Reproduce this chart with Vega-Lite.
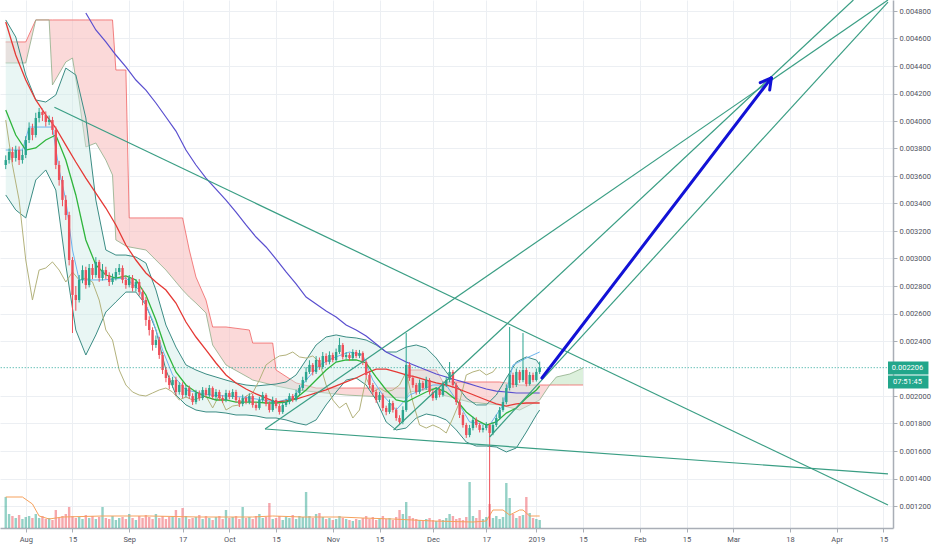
{
  "$schema": "https://vega.github.io/schema/vega-lite/v6.json",
  "width": 893,
  "height": 528,
  "autosize": {"type": "none"},
  "padding": {"left": 0, "top": 0, "right": 39, "bottom": 22},
  "background": "#ffffff",
  "config": {
    "view": {"stroke": null},
    "font": "Roboto",
    "axis": {"labelFont": "Roboto", "labelFontSize": 7.5, "labelColor": "#50535e", "domainColor": "#a9aeb6", "domainWidth": 1.5, "tickColor": "#a9aeb6", "tickSize": 4, "gridColor": "#eceff3", "gridWidth": 1}
  },
  "datasets": {
    "candles": [
      {"t":"2018-07-26","o":0.003680,"h":0.003750,"l":0.003650,"c":0.003716,"v":31},
      {"t":"2018-07-27","o":0.003716,"h":0.003800,"l":0.003690,"c":0.003775,"v":14},
      {"t":"2018-07-28","o":0.003775,"h":0.003810,"l":0.003700,"c":0.003731,"v":12},
      {"t":"2018-07-29","o":0.003731,"h":0.003820,"l":0.003705,"c":0.003789,"v":10},
      {"t":"2018-07-30","o":0.003789,"h":0.003815,"l":0.003680,"c":0.003716,"v":13},
      {"t":"2018-07-31","o":0.003716,"h":0.003790,"l":0.003690,"c":0.003753,"v":9},
      {"t":"2018-08-01","o":0.003753,"h":0.003890,"l":0.003730,"c":0.003862,"v":11},
      {"t":"2018-08-02","o":0.003862,"h":0.003990,"l":0.003840,"c":0.003949,"v":12},
      {"t":"2018-08-03","o":0.003949,"h":0.003980,"l":0.003860,"c":0.003898,"v":10},
      {"t":"2018-08-04","o":0.003898,"h":0.004060,"l":0.003880,"c":0.004022,"v":14},
      {"t":"2018-08-05","o":0.004022,"h":0.004095,"l":0.003990,"c":0.004066,"v":10},
      {"t":"2018-08-06","o":0.004066,"h":0.004090,"l":0.004000,"c":0.004044,"v":12},
      {"t":"2018-08-07","o":0.004044,"h":0.004070,"l":0.003960,"c":0.003993,"v":9},
      {"t":"2018-08-08","o":0.003993,"h":0.004040,"l":0.003970,"c":0.004007,"v":10},
      {"t":"2018-08-09","o":0.004007,"h":0.004030,"l":0.003900,"c":0.003935,"v":8},
      {"t":"2018-08-10","o":0.003935,"h":0.003960,"l":0.003650,"c":0.003680,"v":18},
      {"t":"2018-08-11","o":0.003680,"h":0.003710,"l":0.003530,"c":0.003571,"v":10},
      {"t":"2018-08-12","o":0.003571,"h":0.003600,"l":0.003380,"c":0.003426,"v":12},
      {"t":"2018-08-13","o":0.003426,"h":0.003460,"l":0.003280,"c":0.003316,"v":14},
      {"t":"2018-08-14","o":0.003316,"h":0.003340,"l":0.002950,"c":0.002989,"v":21},
      {"t":"2018-08-15","o":0.002989,"h":0.003010,"l":0.002458,"c":0.002735,"v":12},
      {"t":"2018-08-16","o":0.002735,"h":0.002800,"l":0.002620,"c":0.002698,"v":10},
      {"t":"2018-08-17","o":0.002698,"h":0.002880,"l":0.002680,"c":0.002844,"v":11},
      {"t":"2018-08-18","o":0.002844,"h":0.002950,"l":0.002820,"c":0.002916,"v":9},
      {"t":"2018-08-19","o":0.002916,"h":0.002940,"l":0.002780,"c":0.002807,"v":13},
      {"t":"2018-08-20","o":0.002807,"h":0.002960,"l":0.002790,"c":0.002931,"v":10},
      {"t":"2018-08-21","o":0.002931,"h":0.002960,"l":0.002850,"c":0.002880,"v":12},
      {"t":"2018-08-22","o":0.002880,"h":0.003010,"l":0.002860,"c":0.002975,"v":9},
      {"t":"2018-08-23","o":0.002975,"h":0.002990,"l":0.002830,"c":0.002858,"v":11},
      {"t":"2018-08-24","o":0.002858,"h":0.002960,"l":0.002840,"c":0.002916,"v":21},
      {"t":"2018-08-25","o":0.002916,"h":0.002940,"l":0.002850,"c":0.002880,"v":10},
      {"t":"2018-08-26","o":0.002880,"h":0.002900,"l":0.002800,"c":0.002829,"v":9},
      {"t":"2018-08-27","o":0.002829,"h":0.002890,"l":0.002810,"c":0.002858,"v":12},
      {"t":"2018-08-28","o":0.002858,"h":0.002930,"l":0.002840,"c":0.002902,"v":8},
      {"t":"2018-08-29","o":0.002902,"h":0.002960,"l":0.002880,"c":0.002931,"v":10},
      {"t":"2018-08-30","o":0.002931,"h":0.002950,"l":0.002820,"c":0.002844,"v":11},
      {"t":"2018-08-31","o":0.002844,"h":0.002870,"l":0.002780,"c":0.002807,"v":9},
      {"t":"2018-09-01","o":0.002807,"h":0.002880,"l":0.002790,"c":0.002858,"v":14},
      {"t":"2018-09-02","o":0.002858,"h":0.002880,"l":0.002760,"c":0.002785,"v":10},
      {"t":"2018-09-03","o":0.002785,"h":0.002850,"l":0.002760,"c":0.002829,"v":8},
      {"t":"2018-09-04","o":0.002829,"h":0.002850,"l":0.002730,"c":0.002756,"v":12},
      {"t":"2018-09-05","o":0.002756,"h":0.002780,"l":0.002660,"c":0.002698,"v":10},
      {"t":"2018-09-06","o":0.002698,"h":0.002720,"l":0.002510,"c":0.002553,"v":13},
      {"t":"2018-09-07","o":0.002553,"h":0.002580,"l":0.002440,"c":0.002480,"v":11},
      {"t":"2018-09-08","o":0.002480,"h":0.002500,"l":0.002330,"c":0.002371,"v":9},
      {"t":"2018-09-09","o":0.002371,"h":0.002440,"l":0.002350,"c":0.002407,"v":14},
      {"t":"2018-09-10","o":0.002407,"h":0.002430,"l":0.002270,"c":0.002298,"v":10},
      {"t":"2018-09-11","o":0.002298,"h":0.002320,"l":0.002160,"c":0.002189,"v":12},
      {"t":"2018-09-12","o":0.002189,"h":0.002210,"l":0.002100,"c":0.002131,"v":9},
      {"t":"2018-09-13","o":0.002131,"h":0.002150,"l":0.002050,"c":0.002080,"v":11},
      {"t":"2018-09-14","o":0.002080,"h":0.002140,"l":0.002060,"c":0.002116,"v":12},
      {"t":"2018-09-15","o":0.002116,"h":0.002140,"l":0.002005,"c":0.002029,"v":18},
      {"t":"2018-09-16","o":0.002029,"h":0.002100,"l":0.002010,"c":0.002080,"v":10},
      {"t":"2018-09-17","o":0.002080,"h":0.002100,"l":0.001985,"c":0.002007,"v":20},
      {"t":"2018-09-18","o":0.002007,"h":0.002080,"l":0.001990,"c":0.002058,"v":12},
      {"t":"2018-09-19","o":0.002058,"h":0.002075,"l":0.001980,"c":0.002000,"v":9},
      {"t":"2018-09-20","o":0.002000,"h":0.002020,"l":0.001935,"c":0.001956,"v":10},
      {"t":"2018-09-21","o":0.001956,"h":0.002045,"l":0.001940,"c":0.002022,"v":11},
      {"t":"2018-09-22","o":0.002022,"h":0.002040,"l":0.001965,"c":0.001985,"v":13},
      {"t":"2018-09-23","o":0.001985,"h":0.002065,"l":0.001970,"c":0.002044,"v":9},
      {"t":"2018-09-24","o":0.002044,"h":0.002060,"l":0.001990,"c":0.002007,"v":12},
      {"t":"2018-09-25","o":0.002007,"h":0.002080,"l":0.001990,"c":0.002058,"v":10},
      {"t":"2018-09-26","o":0.002058,"h":0.002070,"l":0.001975,"c":0.001993,"v":8},
      {"t":"2018-09-27","o":0.001993,"h":0.002050,"l":0.001975,"c":0.002029,"v":11},
      {"t":"2018-09-28","o":0.002029,"h":0.002045,"l":0.001965,"c":0.001985,"v":12},
      {"t":"2018-09-29","o":0.001985,"h":0.002005,"l":0.001950,"c":0.001971,"v":9},
      {"t":"2018-09-30","o":0.001971,"h":0.002045,"l":0.001955,"c":0.002022,"v":18},
      {"t":"2018-10-01","o":0.002022,"h":0.002040,"l":0.001975,"c":0.001993,"v":10},
      {"t":"2018-10-02","o":0.001993,"h":0.002050,"l":0.001978,"c":0.002029,"v":11},
      {"t":"2018-10-03","o":0.002029,"h":0.002045,"l":0.001955,"c":0.001971,"v":12},
      {"t":"2018-10-04","o":0.001971,"h":0.001990,"l":0.001920,"c":0.001942,"v":9},
      {"t":"2018-10-05","o":0.001942,"h":0.002010,"l":0.001925,"c":0.001985,"v":21},
      {"t":"2018-10-06","o":0.001985,"h":0.002000,"l":0.001940,"c":0.001956,"v":10},
      {"t":"2018-10-07","o":0.001956,"h":0.002020,"l":0.001940,"c":0.002000,"v":11},
      {"t":"2018-10-08","o":0.002000,"h":0.002015,"l":0.001915,"c":0.001935,"v":9},
      {"t":"2018-10-09","o":0.001935,"h":0.001955,"l":0.001895,"c":0.001913,"v":12},
      {"t":"2018-10-10","o":0.001913,"h":0.001995,"l":0.001900,"c":0.001971,"v":14},
      {"t":"2018-10-11","o":0.001971,"h":0.002030,"l":0.001955,"c":0.002007,"v":10},
      {"t":"2018-10-12","o":0.002007,"h":0.002020,"l":0.001925,"c":0.001942,"v":11},
      {"t":"2018-10-13","o":0.001942,"h":0.001960,"l":0.001880,"c":0.001898,"v":25},
      {"t":"2018-10-14","o":0.001898,"h":0.001995,"l":0.001885,"c":0.001971,"v":9},
      {"t":"2018-10-15","o":0.001971,"h":0.001985,"l":0.001910,"c":0.001927,"v":10},
      {"t":"2018-10-16","o":0.001927,"h":0.001945,"l":0.001865,"c":0.001884,"v":12},
      {"t":"2018-10-17","o":0.001884,"h":0.001955,"l":0.001870,"c":0.001935,"v":8},
      {"t":"2018-10-18","o":0.001935,"h":0.001980,"l":0.001920,"c":0.001956,"v":11},
      {"t":"2018-10-19","o":0.001956,"h":0.002020,"l":0.001940,"c":0.002000,"v":10},
      {"t":"2018-10-20","o":0.002000,"h":0.002015,"l":0.001955,"c":0.001971,"v":13},
      {"t":"2018-10-21","o":0.001971,"h":0.002045,"l":0.001960,"c":0.002022,"v":9},
      {"t":"2018-10-22","o":0.002022,"h":0.002080,"l":0.002005,"c":0.002058,"v":12},
      {"t":"2018-10-23","o":0.002058,"h":0.002140,"l":0.002040,"c":0.002116,"v":11},
      {"t":"2018-10-24","o":0.002116,"h":0.002210,"l":0.002100,"c":0.002175,"v":36},
      {"t":"2018-10-25","o":0.002175,"h":0.002260,"l":0.002160,"c":0.002226,"v":12},
      {"t":"2018-10-26","o":0.002226,"h":0.002240,"l":0.002150,"c":0.002175,"v":10},
      {"t":"2018-10-27","o":0.002175,"h":0.002290,"l":0.002160,"c":0.002262,"v":14},
      {"t":"2018-10-28","o":0.002262,"h":0.002280,"l":0.002190,"c":0.002211,"v":15},
      {"t":"2018-10-29","o":0.002211,"h":0.002320,"l":0.002195,"c":0.002291,"v":11},
      {"t":"2018-10-30","o":0.002291,"h":0.002310,"l":0.002225,"c":0.002247,"v":9},
      {"t":"2018-10-31","o":0.002247,"h":0.002325,"l":0.002230,"c":0.002298,"v":10},
      {"t":"2018-11-01","o":0.002298,"h":0.002315,"l":0.002245,"c":0.002262,"v":8},
      {"t":"2018-11-02","o":0.002262,"h":0.002345,"l":0.002250,"c":0.002320,"v":9},
      {"t":"2018-11-03","o":0.002320,"h":0.002422,"l":0.002305,"c":0.002371,"v":12},
      {"t":"2018-11-04","o":0.002371,"h":0.002385,"l":0.002265,"c":0.002284,"v":10},
      {"t":"2018-11-05","o":0.002284,"h":0.002320,"l":0.002270,"c":0.002298,"v":9},
      {"t":"2018-11-06","o":0.002298,"h":0.002315,"l":0.002255,"c":0.002276,"v":8},
      {"t":"2018-11-07","o":0.002276,"h":0.002340,"l":0.002260,"c":0.002320,"v":7},
      {"t":"2018-11-08","o":0.002320,"h":0.002335,"l":0.002275,"c":0.002291,"v":9},
      {"t":"2018-11-09","o":0.002291,"h":0.002335,"l":0.002275,"c":0.002313,"v":8},
      {"t":"2018-11-10","o":0.002313,"h":0.002325,"l":0.002225,"c":0.002247,"v":10},
      {"t":"2018-11-11","o":0.002247,"h":0.002260,"l":0.002130,"c":0.002153,"v":12},
      {"t":"2018-11-12","o":0.002153,"h":0.002170,"l":0.002055,"c":0.002080,"v":9},
      {"t":"2018-11-13","o":0.002080,"h":0.002095,"l":0.002005,"c":0.002029,"v":11},
      {"t":"2018-11-14","o":0.002029,"h":0.002045,"l":0.001950,"c":0.001971,"v":8},
      {"t":"2018-11-15","o":0.001971,"h":0.002030,"l":0.001955,"c":0.002007,"v":10},
      {"t":"2018-11-16","o":0.002007,"h":0.002020,"l":0.001890,"c":0.001913,"v":12},
      {"t":"2018-11-17","o":0.001913,"h":0.001930,"l":0.001860,"c":0.001884,"v":9},
      {"t":"2018-11-18","o":0.001884,"h":0.001975,"l":0.001870,"c":0.001949,"v":10},
      {"t":"2018-11-19","o":0.001949,"h":0.001965,"l":0.001880,"c":0.001898,"v":8},
      {"t":"2018-11-20","o":0.001898,"h":0.001915,"l":0.001820,"c":0.001840,"v":11},
      {"t":"2018-11-21","o":0.001840,"h":0.001860,"l":0.001790,"c":0.001811,"v":18},
      {"t":"2018-11-22","o":0.001811,"h":0.001925,"l":0.001795,"c":0.001898,"v":14},
      {"t":"2018-11-23","o":0.001898,"h":0.002458,"l":0.001885,"c":0.002226,"v":26},
      {"t":"2018-11-24","o":0.002226,"h":0.002245,"l":0.002110,"c":0.002131,"v":12},
      {"t":"2018-11-25","o":0.002131,"h":0.002150,"l":0.002060,"c":0.002080,"v":10},
      {"t":"2018-11-26","o":0.002080,"h":0.002095,"l":0.002010,"c":0.002029,"v":9},
      {"t":"2018-11-27","o":0.002029,"h":0.002120,"l":0.002015,"c":0.002095,"v":8},
      {"t":"2018-11-28","o":0.002095,"h":0.002110,"l":0.002040,"c":0.002058,"v":7},
      {"t":"2018-11-29","o":0.002058,"h":0.002140,"l":0.002045,"c":0.002116,"v":9},
      {"t":"2018-11-30","o":0.002116,"h":0.002130,"l":0.002010,"c":0.002029,"v":10},
      {"t":"2018-12-01","o":0.002029,"h":0.002045,"l":0.001965,"c":0.001985,"v":8},
      {"t":"2018-12-02","o":0.001985,"h":0.002065,"l":0.001970,"c":0.002044,"v":7},
      {"t":"2018-12-03","o":0.002044,"h":0.002060,"l":0.001990,"c":0.002007,"v":9},
      {"t":"2018-12-04","o":0.002007,"h":0.002105,"l":0.001995,"c":0.002080,"v":8},
      {"t":"2018-12-05","o":0.002080,"h":0.002140,"l":0.002065,"c":0.002116,"v":10},
      {"t":"2018-12-06","o":0.002116,"h":0.002247,"l":0.002100,"c":0.002175,"v":14},
      {"t":"2018-12-07","o":0.002175,"h":0.002190,"l":0.002060,"c":0.002080,"v":12},
      {"t":"2018-12-08","o":0.002080,"h":0.002095,"l":0.001935,"c":0.001956,"v":9},
      {"t":"2018-12-09","o":0.001956,"h":0.001970,"l":0.001840,"c":0.001862,"v":10},
      {"t":"2018-12-10","o":0.001862,"h":0.001880,"l":0.001770,"c":0.001789,"v":8},
      {"t":"2018-12-11","o":0.001789,"h":0.001805,"l":0.001695,"c":0.001716,"v":11},
      {"t":"2018-12-12","o":0.001716,"h":0.001790,"l":0.001700,"c":0.001767,"v":46},
      {"t":"2018-12-13","o":0.001767,"h":0.001850,"l":0.001750,"c":0.001826,"v":12},
      {"t":"2018-12-14","o":0.001826,"h":0.001845,"l":0.001770,"c":0.001789,"v":10},
      {"t":"2018-12-15","o":0.001789,"h":0.001805,"l":0.001735,"c":0.001753,"v":18},
      {"t":"2018-12-16","o":0.001753,"h":0.001790,"l":0.001735,"c":0.001767,"v":9},
      {"t":"2018-12-17","o":0.001767,"h":0.001810,"l":0.001750,"c":0.001789,"v":11},
      {"t":"2018-12-18","o":0.001789,"h":0.001800,"l":0.001050,"c":0.001731,"v":24},
      {"t":"2018-12-19","o":0.001731,"h":0.001810,"l":0.001715,"c":0.001789,"v":10},
      {"t":"2018-12-20","o":0.001789,"h":0.001865,"l":0.001775,"c":0.001840,"v":12},
      {"t":"2018-12-21","o":0.001840,"h":0.001920,"l":0.001825,"c":0.001898,"v":9},
      {"t":"2018-12-22","o":0.001898,"h":0.001990,"l":0.001885,"c":0.001956,"v":11},
      {"t":"2018-12-23","o":0.001956,"h":0.002085,"l":0.001940,"c":0.002058,"v":45},
      {"t":"2018-12-24","o":0.002058,"h":0.002502,"l":0.002040,"c":0.002153,"v":30},
      {"t":"2018-12-25","o":0.002153,"h":0.002170,"l":0.002060,"c":0.002080,"v":14},
      {"t":"2018-12-26","o":0.002080,"h":0.002200,"l":0.002065,"c":0.002175,"v":10},
      {"t":"2018-12-27","o":0.002175,"h":0.002190,"l":0.002095,"c":0.002116,"v":12},
      {"t":"2018-12-28","o":0.002116,"h":0.002458,"l":0.002100,"c":0.002189,"v":13},
      {"t":"2018-12-29","o":0.002189,"h":0.002205,"l":0.002070,"c":0.002087,"v":31},
      {"t":"2018-12-30","o":0.002087,"h":0.002175,"l":0.002075,"c":0.002153,"v":15},
      {"t":"2018-12-31","o":0.002153,"h":0.002170,"l":0.002100,"c":0.002116,"v":10},
      {"t":"2019-01-01","o":0.002116,"h":0.002200,"l":0.002105,"c":0.002175,"v":9},
      {"t":"2019-01-02","o":0.002175,"h":0.002250,"l":0.002160,"c":0.002206,"v":8}
    ],
    "vma": [
      {"t":"2018-07-26","v":31},{"t":"2018-07-31","v":31},{"t":"2018-08-03","v":24},{"t":"2018-08-05","v":12},
      {"t":"2018-08-08","v":9},{"t":"2018-08-12","v":11},{"t":"2018-08-24","v":12},{"t":"2018-09-07","v":12},
      {"t":"2018-09-22","v":11},{"t":"2018-10-08","v":11},{"t":"2018-10-14","v":12},{"t":"2018-10-23","v":11},
      {"t":"2018-11-03","v":11},{"t":"2018-11-10","v":10},{"t":"2018-11-19","v":9},{"t":"2018-12-01","v":7},
      {"t":"2018-12-13","v":6},{"t":"2018-12-17","v":7},{"t":"2018-12-19","v":18},{"t":"2018-12-22","v":18},
      {"t":"2018-12-24","v":13},{"t":"2018-12-27","v":18},{"t":"2018-12-28","v":18},{"t":"2018-12-30","v":12},
      {"t":"2019-01-02","v":12}
    ],
    "ind": [
      {"t":"2018-07-26","u":0.004735,"lo":0.003462,"basis":0.004080,"ema":0.004720,"ma200":null},
      {"t":"2018-07-29","u":0.004611,"lo":0.003353,"basis":0.003898,"ema":0.004480,"ma200":null},
      {"t":"2018-08-01","u":0.004335,"lo":0.003295,"basis":0.003789,"ema":0.004298,"ma200":null},
      {"t":"2018-08-04","u":0.004153,"lo":0.003571,"basis":0.003804,"ema":0.004153,"ma200":null},
      {"t":"2018-08-07","u":0.004138,"lo":0.003644,"basis":0.003862,"ema":0.004044,"ma200":null},
      {"t":"2018-08-10","u":0.004189,"lo":0.003498,"basis":0.003898,"ema":0.003949,"ma200":null},
      {"t":"2018-08-13","u":0.004385,"lo":0.002953,"basis":0.003716,"ema":0.003825,"ma200":null},
      {"t":"2018-08-16","u":0.004335,"lo":0.002480,"basis":0.003462,"ema":0.003702,"ma200":null},
      {"t":"2018-08-19","u":0.004022,"lo":0.002298,"basis":0.003135,"ema":0.003585,"ma200":0.004785},
      {"t":"2018-08-22","u":0.003425,"lo":0.002444,"basis":0.002953,"ema":0.003476,"ma200":0.004662},
      {"t":"2018-08-25","u":0.003062,"lo":0.002611,"basis":0.002880,"ema":0.003367,"ma200":0.004575},
      {"t":"2018-08-28","u":0.003025,"lo":0.002684,"basis":0.002858,"ema":0.003244,"ma200":0.004480},
      {"t":"2018-08-31","u":0.003025,"lo":0.002756,"basis":0.002873,"ema":0.003098,"ma200":0.004393},
      {"t":"2018-09-03","u":0.003011,"lo":0.002756,"basis":0.002844,"ema":0.002989,"ma200":0.004298},
      {"t":"2018-09-06","u":0.002967,"lo":0.002662,"basis":0.002735,"ema":0.002895,"ma200":0.004225},
      {"t":"2018-09-09","u":0.002771,"lo":0.002480,"basis":0.002553,"ema":0.002829,"ma200":0.004131},
      {"t":"2018-09-12","u":0.002516,"lo":0.002189,"basis":0.002335,"ema":0.002771,"ma200":0.004029},
      {"t":"2018-09-15","u":0.002356,"lo":0.002007,"basis":0.002175,"ema":0.002676,"ma200":0.003927},
      {"t":"2018-09-18","u":0.002226,"lo":0.001935,"basis":0.002080,"ema":0.002538,"ma200":0.003789},
      {"t":"2018-09-21","u":0.002189,"lo":0.001898,"basis":0.002029,"ema":0.002429,"ma200":0.003680},
      {"t":"2018-09-24","u":0.002160,"lo":0.001884,"basis":0.001993,"ema":0.002335,"ma200":0.003585},
      {"t":"2018-09-27","u":0.002138,"lo":0.001884,"basis":0.001971,"ema":0.002240,"ma200":0.003505},
      {"t":"2018-09-30","u":0.002116,"lo":0.001876,"basis":0.001971,"ema":0.002153,"ma200":0.003425},
      {"t":"2018-10-03","u":0.002095,"lo":0.001862,"basis":0.001956,"ema":0.002095,"ma200":0.003338},
      {"t":"2018-10-06","u":0.002080,"lo":0.001862,"basis":0.001956,"ema":0.002051,"ma200":0.003244},
      {"t":"2018-10-09","u":0.002073,"lo":0.001855,"basis":0.001956,"ema":0.002015,"ma200":0.003156},
      {"t":"2018-10-12","u":0.002080,"lo":0.001840,"basis":0.001949,"ema":0.001985,"ma200":0.003084},
      {"t":"2018-10-15","u":0.002087,"lo":0.001840,"basis":0.001949,"ema":0.001956,"ma200":0.002996},
      {"t":"2018-10-18","u":0.002102,"lo":0.001826,"basis":0.001956,"ema":0.001964,"ma200":0.002902},
      {"t":"2018-10-21","u":0.002153,"lo":0.001804,"basis":0.001985,"ema":0.001978,"ma200":0.002815},
      {"t":"2018-10-24","u":0.002262,"lo":0.001789,"basis":0.002044,"ema":0.002000,"ma200":0.002720},
      {"t":"2018-10-27","u":0.002371,"lo":0.001826,"basis":0.002116,"ema":0.002022,"ma200":0.002669},
      {"t":"2018-10-30","u":0.002429,"lo":0.001935,"basis":0.002189,"ema":0.002044,"ma200":0.002618},
      {"t":"2018-11-02","u":0.002444,"lo":0.002029,"basis":0.002247,"ema":0.002073,"ma200":0.002575},
      {"t":"2018-11-05","u":0.002429,"lo":0.002116,"basis":0.002262,"ema":0.002102,"ma200":0.002516},
      {"t":"2018-11-08","u":0.002422,"lo":0.002131,"basis":0.002262,"ema":0.002131,"ma200":0.002480},
      {"t":"2018-11-11","u":0.002407,"lo":0.002080,"basis":0.002240,"ema":0.002167,"ma200":0.002436},
      {"t":"2018-11-14","u":0.002371,"lo":0.001971,"basis":0.002138,"ema":0.002196,"ma200":0.002378},
      {"t":"2018-11-17","u":0.002320,"lo":0.001811,"basis":0.002044,"ema":0.002196,"ma200":0.002320},
      {"t":"2018-11-20","u":0.002320,"lo":0.001753,"basis":0.001971,"ema":0.002175,"ma200":0.002284},
      {"t":"2018-11-23","u":0.002356,"lo":0.001767,"basis":0.001956,"ema":0.002153,"ma200":0.002247},
      {"t":"2018-11-26","u":0.002371,"lo":0.001840,"basis":0.001993,"ema":0.002138,"ma200":0.002218},
      {"t":"2018-11-29","u":0.002349,"lo":0.001869,"basis":0.002029,"ema":0.002116,"ma200":0.002189},
      {"t":"2018-12-02","u":0.002276,"lo":0.001855,"basis":0.002058,"ema":0.002095,"ma200":0.002160},
      {"t":"2018-12-05","u":0.002175,"lo":0.001826,"basis":0.002029,"ema":0.002080,"ma200":0.002138},
      {"t":"2018-12-08","u":0.002080,"lo":0.001753,"basis":0.001971,"ema":0.002058,"ma200":0.002116},
      {"t":"2018-12-11","u":0.001985,"lo":0.001665,"basis":0.001884,"ema":0.002029,"ma200":0.002095},
      {"t":"2018-12-14","u":0.001935,"lo":0.001636,"basis":0.001826,"ema":0.002000,"ma200":0.002073},
      {"t":"2018-12-17","u":0.001935,"lo":0.001636,"basis":0.001789,"ema":0.001971,"ma200":0.002051},
      {"t":"2018-12-20","u":0.002007,"lo":0.001629,"basis":0.001811,"ema":0.001942,"ma200":0.002036},
      {"t":"2018-12-23","u":0.002131,"lo":0.001593,"basis":0.001876,"ema":0.001927,"ma200":0.002029},
      {"t":"2018-12-26","u":0.002247,"lo":0.001622,"basis":0.001913,"ema":0.001942,"ma200":0.002022},
      {"t":"2018-12-29","u":0.002284,"lo":0.001738,"basis":0.001985,"ema":0.001949,"ma200":0.002022},
      {"t":"2019-01-01","u":0.002262,"lo":0.001862,"basis":0.002044,"ema":0.001949,"ma200":0.002022},
      {"t":"2019-01-02","u":0.002226,"lo":0.001898,"basis":0.002073,"ema":0.001949,"ma200":0.002022}
    ],
    "tenkan": [
      {"t":"2018-07-26","p":0.003789},{"t":"2018-07-31","p":0.003789},{"t":"2018-08-02","p":0.003956},{"t":"2018-08-09","p":0.003956},
      {"t":"2018-08-11","p":0.003644},{"t":"2018-08-13","p":0.003425},{"t":"2018-08-15","p":0.003062},{"t":"2018-08-17","p":0.002844},
      {"t":"2018-08-24","p":0.002844},{"t":"2018-08-31","p":0.002858},{"t":"2018-09-04","p":0.002771},{"t":"2018-09-08","p":0.002553},
      {"t":"2018-09-11","p":0.002335},{"t":"2018-09-14","p":0.002153},{"t":"2018-09-18","p":0.002044},{"t":"2018-09-25","p":0.002007},
      {"t":"2018-10-05","p":0.001993},{"t":"2018-10-15","p":0.001956},{"t":"2018-10-20","p":0.001985},{"t":"2018-10-24","p":0.002116},
      {"t":"2018-10-28","p":0.002225},{"t":"2018-11-01","p":0.002276},{"t":"2018-11-06","p":0.002320},{"t":"2018-11-10","p":0.002298},
      {"t":"2018-11-13","p":0.002116},{"t":"2018-11-16","p":0.002007},{"t":"2018-11-20","p":0.001898},{"t":"2018-11-24","p":0.002007},
      {"t":"2018-12-01","p":0.002080},{"t":"2018-12-05","p":0.002080},{"t":"2018-12-09","p":0.001935},{"t":"2018-12-12","p":0.001811},
      {"t":"2018-12-18","p":0.001789},{"t":"2018-12-22","p":0.001935},{"t":"2018-12-25","p":0.002225},{"t":"2018-12-29","p":0.002276},
      {"t":"2019-01-02","p":0.002320}
    ],
    "lag": [
      {"t":"2018-07-26","p":0.004007},{"t":"2018-07-28","p":0.003680},{"t":"2018-07-30","p":0.003426},{"t":"2018-08-01","p":0.002989},
      {"t":"2018-08-03","p":0.002698},{"t":"2018-08-05","p":0.002916},{"t":"2018-08-07","p":0.002931},{"t":"2018-08-09","p":0.002975},
      {"t":"2018-08-11","p":0.002916},{"t":"2018-08-13","p":0.002829},{"t":"2018-08-15","p":0.002902},{"t":"2018-08-17","p":0.002844},
      {"t":"2018-08-19","p":0.002858},{"t":"2018-08-21","p":0.002829},{"t":"2018-08-23","p":0.002698},{"t":"2018-08-25","p":0.002480},
      {"t":"2018-08-27","p":0.002407},{"t":"2018-08-29","p":0.002189},{"t":"2018-08-31","p":0.002080},{"t":"2018-09-02","p":0.002029},
      {"t":"2018-09-04","p":0.002007},{"t":"2018-09-06","p":0.002000},{"t":"2018-09-08","p":0.002022},{"t":"2018-09-10","p":0.002044},
      {"t":"2018-09-12","p":0.002058},{"t":"2018-09-14","p":0.002029},{"t":"2018-09-16","p":0.001971},{"t":"2018-09-18","p":0.001993},
      {"t":"2018-09-20","p":0.001971},{"t":"2018-09-22","p":0.001985},{"t":"2018-09-24","p":0.002000},{"t":"2018-09-26","p":0.001913},
      {"t":"2018-09-28","p":0.002007},{"t":"2018-09-30","p":0.001898},{"t":"2018-10-02","p":0.001927},{"t":"2018-10-04","p":0.001935},
      {"t":"2018-10-06","p":0.002000},{"t":"2018-10-08","p":0.002022},{"t":"2018-10-10","p":0.002116},{"t":"2018-10-12","p":0.002226},
      {"t":"2018-10-14","p":0.002262},{"t":"2018-10-16","p":0.002291},{"t":"2018-10-18","p":0.002298},{"t":"2018-10-20","p":0.002320},
      {"t":"2018-10-22","p":0.002284},{"t":"2018-10-24","p":0.002276},{"t":"2018-10-26","p":0.002291},{"t":"2018-10-28","p":0.002247},
      {"t":"2018-10-30","p":0.002080},{"t":"2018-11-01","p":0.001971},{"t":"2018-11-03","p":0.001913},{"t":"2018-11-05","p":0.001949},
      {"t":"2018-11-07","p":0.001840},{"t":"2018-11-09","p":0.001898},{"t":"2018-11-11","p":0.002131},{"t":"2018-11-13","p":0.002029},
      {"t":"2018-11-15","p":0.002058},{"t":"2018-11-17","p":0.002029},{"t":"2018-11-19","p":0.002044},{"t":"2018-11-21","p":0.002080},
      {"t":"2018-11-23","p":0.002175},{"t":"2018-11-25","p":0.001956},{"t":"2018-11-27","p":0.001789},{"t":"2018-11-29","p":0.001767},
      {"t":"2018-12-01","p":0.001789},{"t":"2018-12-03","p":0.001767},{"t":"2018-12-05","p":0.001731},{"t":"2018-12-07","p":0.001840},
      {"t":"2018-12-09","p":0.001956},{"t":"2018-12-11","p":0.002153},{"t":"2018-12-13","p":0.002175},{"t":"2018-12-15","p":0.002189},
      {"t":"2018-12-17","p":0.002153},{"t":"2018-12-19","p":0.002175},{"t":"2018-12-20","p":0.002206}
    ],
    "cloud": [
      {"t":"2018-07-26","b":0.004575,"a":0.004422,"k":"bear"},
      {"t":"2018-08-01","b":0.004575,"a":0.004422,"k":"bear"},
      {"t":"2018-08-04","b":0.004735,"a":0.004735,"k":"bear"},
      {"t":"2018-08-08","b":0.004735,"a":0.004735,"k":"bear"},
      {"t":"2018-08-09","b":0.004735,"a":0.004262,"k":"bear"},
      {"t":"2018-08-13","b":0.004735,"a":0.004429,"k":"bear"},
      {"t":"2018-08-15","b":0.004735,"a":0.004458,"k":"bear"},
      {"t":"2018-08-17","b":0.004735,"a":0.004153,"k":"bear"},
      {"t":"2018-08-19","b":0.004735,"a":0.003811,"k":"bear"},
      {"t":"2018-08-22","b":0.004735,"a":0.003840,"k":"bear"},
      {"t":"2018-08-25","b":0.004735,"a":0.003716,"k":"bear"},
      {"t":"2018-08-27","b":0.004735,"a":0.003607,"k":"bear"},
      {"t":"2018-08-28","b":0.004371,"a":0.003135,"k":"bear"},
      {"t":"2018-08-31","b":0.004371,"a":0.003091,"k":"bear"},
      {"t":"2018-09-01","b":0.003295,"a":0.003084,"k":"bear"},
      {"t":"2018-09-06","b":0.003295,"a":0.003062,"k":"bear"},
      {"t":"2018-09-12","b":0.003295,"a":0.002916,"k":"bear"},
      {"t":"2018-09-17","b":0.003295,"a":0.002771,"k":"bear"},
      {"t":"2018-09-19","b":0.003062,"a":0.002720,"k":"bear"},
      {"t":"2018-09-21","b":0.002865,"a":0.002676,"k":"bear"},
      {"t":"2018-09-24","b":0.002698,"a":0.002604,"k":"bear"},
      {"t":"2018-09-26","b":0.002502,"a":0.002371,"k":"bear"},
      {"t":"2018-09-30","b":0.002502,"a":0.002226,"k":"bear"},
      {"t":"2018-10-07","b":0.002480,"a":0.002131,"k":"bear"},
      {"t":"2018-10-08","b":0.002385,"a":0.002116,"k":"bear"},
      {"t":"2018-10-14","b":0.002385,"a":0.002080,"k":"bear"},
      {"t":"2018-10-15","b":0.002189,"a":0.002073,"k":"bear"},
      {"t":"2018-10-21","b":0.002095,"a":0.002044,"k":"bear"},
      {"t":"2018-10-27","b":0.002058,"a":0.002029,"k":"bear"},
      {"t":"2018-11-05","b":0.002058,"a":0.002007,"k":"bear"},
      {"t":"2018-11-23","b":0.002058,"a":0.001985,"k":"bear"},
      {"t":"2018-11-24","b":0.002189,"a":0.002029,"k":"bear"},
      {"t":"2018-12-02","b":0.002189,"a":0.002058,"k":"bear"},
      {"t":"2018-12-04","b":0.002102,"a":0.002007,"k":"bear"},
      {"t":"2018-12-12","b":0.002102,"a":0.001956,"k":"bear"},
      {"t":"2018-12-21","b":0.002102,"a":0.001935,"k":"bear"},
      {"t":"2018-12-27","b":0.002080,"a":0.001898,"k":"bear"},
      {"t":"2019-01-02","b":0.002080,"a":0.001971,"k":"bear"},
      {"t":"2019-01-04","b":0.002080,"a":0.002044,"k":"bear"},
      {"t":"2019-01-05","b":0.002080,"a":0.002080,"k":"bear"},
      {"t":"2019-01-05","b":0.002080,"a":0.002080,"k":"bull"},
      {"t":"2019-01-07","b":0.002080,"a":0.002138,"k":"bull"},
      {"t":"2019-01-11","b":0.002080,"a":0.002160,"k":"bull"},
      {"t":"2019-01-15","b":0.002080,"a":0.002204,"k":"bull"}
    ],
    "trend": [
      {"t":"2018-08-09T14:00:00Z","p":0.0041,"t2":"2019-04-16T09:00:00Z","p2":0.001207},
      {"t":"2018-10-11T17:00:00Z","p":0.00176,"t2":"2019-04-16T09:00:00Z","p2":0.001433},
      {"t":"2018-10-11T17:00:00Z","p":0.00176,"t2":"2019-04-16T09:00:00Z","p2":0.00488},
      {"t":"2018-11-19T05:00:00Z","p":0.001753,"t2":"2019-04-06T00:00:00Z","p2":0.00488},
      {"t":"2018-12-18T00:00:00Z","p":0.001702,"t2":"2019-04-16T09:00:00Z","p2":0.004865}
    ],
    "arrow": [
      {"t":"2019-01-02T16:00:00Z","p":0.002131,"t2":"2019-03-12T10:00:00Z","p2":0.004313},
      {"t":"2019-03-12T10:00:00Z","p":0.004313,"t2":"2019-03-09T02:00:00Z","p2":0.004279},
      {"t":"2019-03-12T10:00:00Z","p":0.004313,"t2":"2019-03-11T22:00:00Z","p2":0.004226}
    ],
    "last": [
      {"t":"2018-07-20","t2":"2019-04-20","p":0.002206}
    ],
    "tags": [
      {"t":"2019-04-16T09:00:00Z","t2":"2019-04-28T12:00:00Z","p":0.002251,"p2":0.002156,"pm":0.0022035,"s":"0.002206"},
      {"t":"2019-04-16T09:00:00Z","t2":"2019-04-28T12:00:00Z","p":0.002149,"p2":0.002055,"pm":0.002102,"s":"07:51:45"}
    ]
  },
  "encoding": {
    "x": {
      "field": "t", "type": "temporal", "title": null,
      "scale": {"type": "utc", "domain": [{"year": 2018, "month": 7, "date": 25, "hours": 18, "minutes": 40, "utc": true}, {"year": 2019, "month": 4, "date": 16, "hours": 9, "utc": true}]},
      "axis": {
        "values": [
          {"year": 2018, "month": 8, "date": 1, "utc": true}, {"year": 2018, "month": 8, "date": 15, "utc": true},
          {"year": 2018, "month": 9, "date": 1, "utc": true}, {"year": 2018, "month": 9, "date": 17, "utc": true},
          {"year": 2018, "month": 10, "date": 1, "utc": true}, {"year": 2018, "month": 10, "date": 15, "utc": true},
          {"year": 2018, "month": 11, "date": 1, "utc": true}, {"year": 2018, "month": 11, "date": 15, "utc": true},
          {"year": 2018, "month": 12, "date": 1, "utc": true}, {"year": 2018, "month": 12, "date": 17, "utc": true},
          {"year": 2019, "month": 1, "date": 1, "utc": true}, {"year": 2019, "month": 1, "date": 15, "utc": true},
          {"year": 2019, "month": 2, "date": 1, "utc": true}, {"year": 2019, "month": 2, "date": 15, "utc": true},
          {"year": 2019, "month": 3, "date": 1, "utc": true}, {"year": 2019, "month": 3, "date": 18, "utc": true},
          {"year": 2019, "month": 4, "date": 1, "utc": true}, {"year": 2019, "month": 4, "date": 15, "utc": true}
        ],
        "labelExpr": "utcdate(datum.value) == 1 ? (utcmonth(datum.value) == 0 ? utcFormat(datum.value, '%Y') : utcFormat(datum.value, '%b')) : utcFormat(datum.value, '%-d')",
        "grid": true, "labelPadding": 3, "labelFlush": false, "labelOverlap": false, "labelBound": false
      }
    }
  },
  "layer": [
    {
      "data": {"name": "cloud"},
      "mark": {"type": "area", "opacity": 0.55, "clip": true},
      "encoding": {
        "y": {"field": "a", "type": "quantitative", "title": null, "scale": {"domain": [0.00104, 0.00488], "nice": false, "zero": false},
          "axis": {"orient": "right", "values": [0.0012, 0.0014, 0.0016, 0.0018, 0.002, 0.0024, 0.0026, 0.0028, 0.003, 0.0032, 0.0034, 0.0036, 0.0038, 0.004, 0.0042, 0.0044, 0.0046, 0.0048], "format": ".6f", "grid": true, "labelPadding": 2}},
        "y2": {"field": "b"},
        "color": {"field": "k", "type": "nominal", "scale": {"domain": ["bear", "bull"], "range": ["#f7b9b9", "#bfe3c0"]}, "legend": null}
      }
    },
    {
      "data": {"name": "candles"},
      "mark": {"type": "bar", "width": 2.4, "opacity": 0.5},
      "encoding": {
        "y": {"field": "v", "type": "quantitative", "scale": {"domain": [0, 528], "nice": false}, "axis": null},
        "color": {"condition": {"test": "datum.c >= datum.o", "value": "#2aa48e"}, "value": "#ee4f5a"}
      }
    },
    {
      "data": {"name": "vma"},
      "mark": {"type": "line", "color": "#f6a15c", "strokeWidth": 1},
      "encoding": {"y": {"field": "v", "type": "quantitative", "scale": {"domain": [0, 528], "nice": false}, "axis": null}}
    },
    {
      "data": {"name": "cloud"},
      "mark": {"type": "line", "color": "#ef5b5b", "strokeWidth": 1, "opacity": 0.75, "clip": true},
      "encoding": {"y": {"field": "b", "type": "quantitative", "scale": {"domain": [0.00104, 0.00488], "nice": false, "zero": false}, "axis": null}}
    },
    {
      "data": {"name": "cloud"},
      "mark": {"type": "line", "color": "#8fae88", "strokeWidth": 1, "opacity": 0.8, "clip": true},
      "encoding": {"y": {"field": "a", "type": "quantitative", "scale": {"domain": [0.00104, 0.00488], "nice": false, "zero": false}, "axis": null}}
    },
    {
      "data": {"name": "ind"},
      "mark": {"type": "area", "color": "#cfeae6", "opacity": 0.45},
      "encoding": {"y": {"field": "u", "type": "quantitative", "scale": {"domain": [0.00104, 0.00488], "nice": false, "zero": false}, "axis": null}, "y2": {"field": "lo"}}
    },
    {
      "data": {"name": "ind"},
      "mark": {"type": "line", "color": "#3b8c84", "strokeWidth": 1},
      "encoding": {"y": {"field": "u", "type": "quantitative", "scale": {"domain": [0.00104, 0.00488], "nice": false, "zero": false}, "axis": null}}
    },
    {
      "data": {"name": "ind"},
      "mark": {"type": "line", "color": "#3b8c84", "strokeWidth": 1},
      "encoding": {"y": {"field": "lo", "type": "quantitative", "scale": {"domain": [0.00104, 0.00488], "nice": false, "zero": false}, "axis": null}}
    },
    {
      "data": {"name": "lag"},
      "mark": {"type": "line", "color": "#b3b27c", "strokeWidth": 1},
      "encoding": {"y": {"field": "p", "type": "quantitative", "scale": {"domain": [0.00104, 0.00488], "nice": false, "zero": false}, "axis": null}}
    },
    {
      "data": {"name": "tenkan"},
      "mark": {"type": "line", "color": "#6cb4ee", "strokeWidth": 1},
      "encoding": {"y": {"field": "p", "type": "quantitative", "scale": {"domain": [0.00104, 0.00488], "nice": false, "zero": false}, "axis": null}}
    },
    {
      "data": {"name": "ind"},
      "mark": {"type": "line", "color": "#5a4fcf", "strokeWidth": 1.2},
      "encoding": {"y": {"field": "ma200", "type": "quantitative", "scale": {"domain": [0.00104, 0.00488], "nice": false, "zero": false}, "axis": null}}
    },
    {
      "data": {"name": "ind"},
      "mark": {"type": "line", "color": "#e53935", "strokeWidth": 1.3},
      "encoding": {"y": {"field": "ema", "type": "quantitative", "scale": {"domain": [0.00104, 0.00488], "nice": false, "zero": false}, "axis": null}}
    },
    {
      "data": {"name": "ind"},
      "mark": {"type": "line", "color": "#2fb53c", "strokeWidth": 1.3},
      "encoding": {"y": {"field": "basis", "type": "quantitative", "scale": {"domain": [0.00104, 0.00488], "nice": false, "zero": false}, "axis": null}}
    },
    {
      "data": {"name": "candles"},
      "mark": {"type": "rule", "strokeWidth": 1},
      "encoding": {
        "y": {"field": "l", "type": "quantitative", "scale": {"domain": [0.00104, 0.00488], "nice": false, "zero": false}, "axis": null},
        "y2": {"field": "h"},
        "color": {"condition": {"test": "datum.c >= datum.o", "value": "#2aa48e"}, "value": "#ee4f5a"}
      }
    },
    {
      "data": {"name": "candles"},
      "mark": {"type": "bar", "width": 2.4},
      "encoding": {
        "y": {"field": "o", "type": "quantitative", "scale": {"domain": [0.00104, 0.00488], "nice": false, "zero": false}, "axis": null},
        "y2": {"field": "c"},
        "color": {"condition": {"test": "datum.c >= datum.o", "value": "#2aa48e"}, "value": "#ee4f5a"}
      }
    },
    {
      "data": {"name": "trend"},
      "mark": {"type": "rule", "color": "#3a9e84", "strokeWidth": 1.2, "clip": true},
      "encoding": {"x2": {"field": "t2"}, "y": {"field": "p", "type": "quantitative", "scale": {"domain": [0.00104, 0.00488], "nice": false, "zero": false}, "axis": null}, "y2": {"field": "p2"}}
    },
    {
      "data": {"name": "arrow"},
      "mark": {"type": "rule", "color": "#1212d6", "strokeWidth": 3, "strokeCap": "round", "clip": true},
      "encoding": {"x2": {"field": "t2"}, "y": {"field": "p", "type": "quantitative", "scale": {"domain": [0.00104, 0.00488], "nice": false, "zero": false}, "axis": null}, "y2": {"field": "p2"}}
    },
    {
      "data": {"name": "last"},
      "mark": {"type": "rule", "color": "#26a69a", "strokeWidth": 1, "strokeDash": [1, 2], "clip": true},
      "encoding": {"x2": {"field": "t2"}, "y": {"field": "p", "type": "quantitative", "scale": {"domain": [0.00104, 0.00488], "nice": false, "zero": false}, "axis": null}}
    },
    {
      "data": {"name": "tags"},
      "mark": {"type": "rect", "color": "#22a68b"},
      "encoding": {"x2": {"field": "t2"}, "y": {"field": "p", "type": "quantitative", "scale": {"domain": [0.00104, 0.00488], "nice": false, "zero": false}, "axis": null}, "y2": {"field": "p2"}}
    },
    {
      "data": {"name": "tags"},
      "mark": {"type": "text", "color": "#ffffff", "fontSize": 7.5, "font": "Roboto", "align": "center", "baseline": "middle", "dx": 19.5},
      "encoding": {"y": {"field": "pm", "type": "quantitative", "scale": {"domain": [0.00104, 0.00488], "nice": false, "zero": false}, "axis": null}, "text": {"field": "s"}}
    }
  ],
  "resolve": {"scale": {"y": "independent"}}
}
